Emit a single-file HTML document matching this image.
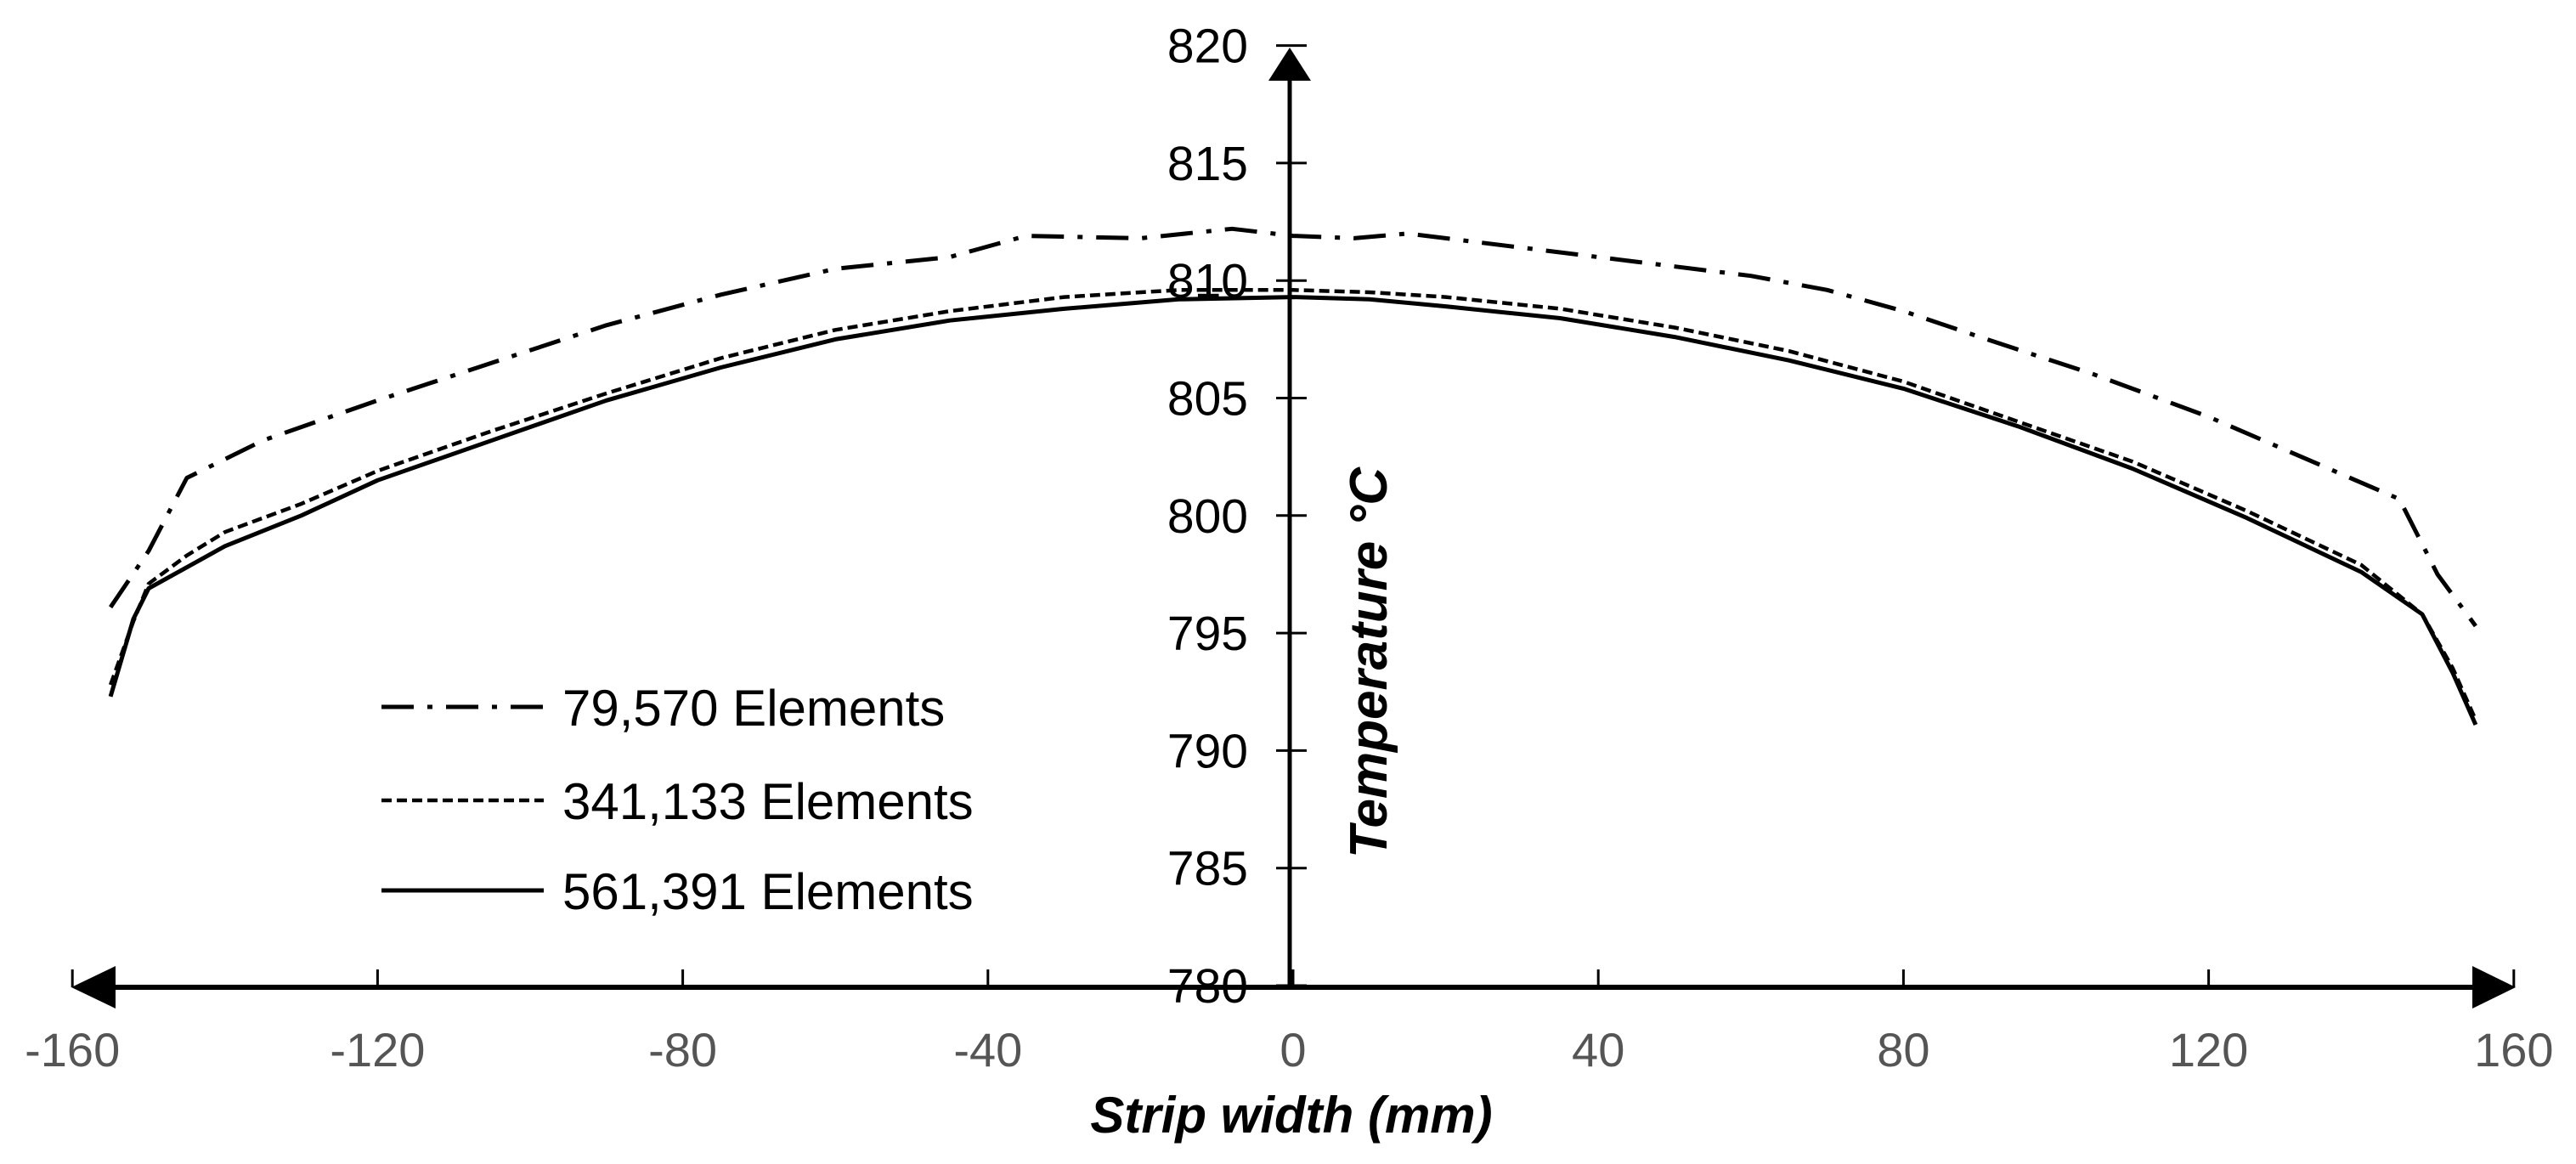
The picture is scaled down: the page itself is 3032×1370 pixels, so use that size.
<!DOCTYPE html>
<html><head><meta charset="utf-8"><style>
html,body{margin:0;padding:0;background:#fff;}
svg{display:block;}
text{font-family:"Liberation Sans",Arial,sans-serif;}
</style></head><body>
<svg id="chart" width="3032" height="1370" viewBox="0 0 3032 1370" xmlns="http://www.w3.org/2000/svg">
<g id="marks"></g>
<g id="axes"></g>
<g id="legend"></g>
</svg>
<script>
const xTicks = [-160,-120,-80,-40,0,40,80,120,160];
const yTicks = [780,785,790,795,800,805,810,815,820];
const seriesNames = ["79,570 Elements","341,133 Elements","561,391 Elements"];
const x1 = [-155,-150,-145,-135,-120,-105,-90,-75,-60,-45,-35,-20,-8,0,8,15,30,45,60,70,80,90,105,120,135,145,150,155];
const y1 = [796.1,798.5,801.6,803.2,804.9,806.5,808.1,809.4,810.5,811.0,811.9,811.8,812.2,811.9,811.8,812.0,811.4,810.8,810.2,809.6,808.7,807.6,806.0,804.2,802.1,800.7,797.5,795.3];
const x2 = [-155,-152,-150,-145,-140,-130,-120,-105,-90,-75,-60,-45,-30,-15,0,10,20,35,50,65,80,95,110,125,140,148,152,155];
const y2 = [792.8,795.5,797.1,798.3,799.3,800.5,801.9,803.6,805.2,806.7,807.9,808.7,809.3,809.6,809.6,809.5,809.3,808.8,808.0,807.0,805.7,804.0,802.3,800.2,797.9,795.8,793.5,791.3];
const x3 = [-155,-152,-150,-145,-140,-130,-120,-105,-90,-75,-60,-45,-30,-15,0,10,20,35,50,65,80,95,110,125,140,148,152,155];
const y3 = [792.3,795.6,796.9,797.8,798.7,800.0,801.5,803.2,804.9,806.3,807.5,808.3,808.8,809.2,809.3,809.2,808.9,808.4,807.6,806.6,805.4,803.8,802.0,799.9,797.6,795.8,793.3,791.1];

const NS="http://www.w3.org/2000/svg";
function X(v){return 1522+v*8.98;}
function Y(v){return 1160-(v-780)*27.66;}
function mk(tag,attrs,parent){const e=document.createElementNS(NS,tag);for(const k in attrs)e.setAttribute(k,attrs[k]);parent.appendChild(e);return e;}
const marks=document.getElementById('marks'),axes=document.getElementById('axes'),legend=document.getElementById('legend');
const styles=[{dash:"38 16 6 16",w:5},{dash:"12 6",w:4.5},{dash:"",w:5}];
const series=[[x1,y1],[x2,y2],[x3,y3]];
series.forEach((s,i)=>{
  const d=s[0].map((xv,j)=>(j?'L':'M')+X(xv).toFixed(1)+' '+Y(s[1][j]).toFixed(1)).join(' ');
  const p=mk('path',{d:d,fill:'none',stroke:'#000','stroke-width':styles[i].w,'stroke-dasharray':styles[i].dash,'stroke-linejoin':'round'},marks);
  
  
});
let l=mk('line',{x1:X(-160)+50,y1:1162,x2:X(160)-48,y2:1162,stroke:'#000','stroke-width':6},axes);


let a=mk('polygon',{points:"84,1162 136,1137 136,1187",fill:'#000'},axes);


a=mk('polygon',{points:"2961,1162 2910,1137 2910,1187",fill:'#000'},axes);


xTicks.forEach(t=>{
  const tk=mk('line',{x1:X(t),y1:1141,x2:X(t),y2:1162,stroke:'#000','stroke-width':3},axes);
  
  
  const tx=mk('text',{x:X(t),y:1255,'text-anchor':'middle','font-size':56,fill:'#555'},axes);
  tx.textContent=t;
  
  
});
l=mk('line',{x1:1518,y1:Y(780),x2:1518,y2:Y(820)+30,stroke:'#000','stroke-width':5},axes);


a=mk('polygon',{points:"1518,56 1493,95 1543,95",fill:'#000'},axes);


yTicks.forEach(t=>{
  const tk=mk('line',{x1:1502,y1:Y(t),x2:1538,y2:Y(t),stroke:'#000','stroke-width':3},axes);
  
  
  const tx=mk('text',{x:1469,y:Y(t)+20,'text-anchor':'end','font-size':57,fill:'#000'},axes);
  tx.textContent=t;
  
  
});
let tt=mk('text',{x:1520,y:1333,'text-anchor':'middle','font-size':60,'font-weight':'bold','font-style':'italic',fill:'#000'},axes);
tt.textContent='Strip width (mm)';


tt=mk('text',{x:0,y:0,'text-anchor':'middle','font-size':62,'font-weight':'bold','font-style':'italic',fill:'#000',transform:'translate(1632,780) rotate(-90)'},axes);
tt.textContent='Temperature  \u00B0C';


const ly=[832,942,1048];
seriesNames.forEach((n,i)=>{
  const ln=mk('line',{x1:449,y1:ly[i],x2:640,y2:ly[i],stroke:'#000','stroke-width':styles[i].w,'stroke-dasharray':styles[i].dash},legend);
  
  
  const tx=mk('text',{x:662,y:ly[i]+22,'font-size':60,fill:'#000'},legend);
  tx.textContent=n;
  
  
});
</script>
</body></html>
